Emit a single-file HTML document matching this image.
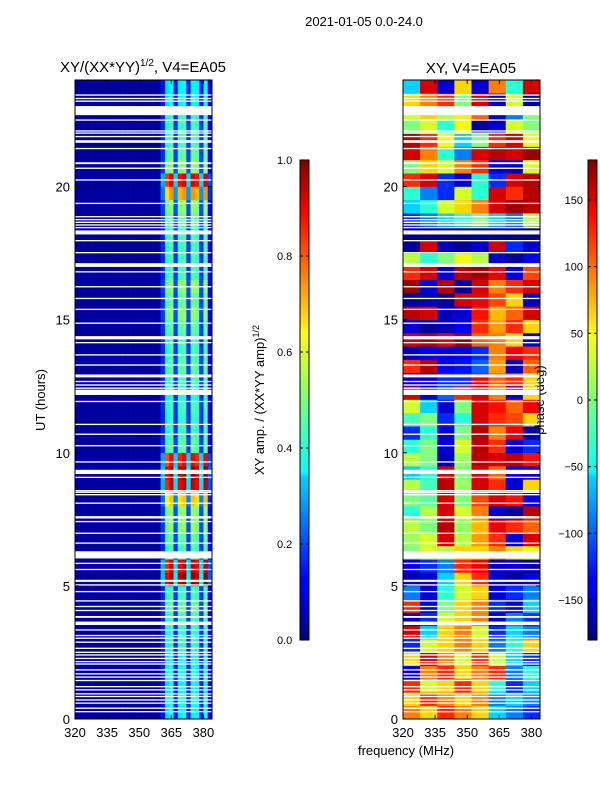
<!DOCTYPE html>
<html><head><meta charset="utf-8">
<style>
html,body{margin:0;padding:0;background:#fff;}
svg{display:block;font-family:"Liberation Sans","DejaVu Sans",sans-serif;}
</style></head>
<body>
<svg id="fig" width="600" height="800" viewBox="0 0 600 800" xmlns="http://www.w3.org/2000/svg">
<defs>
<linearGradient id="jetV" x1="0" y1="1" x2="0" y2="0">
<stop offset="0" stop-color="#00007f"/><stop offset="0.11" stop-color="#0000ff"/>
<stop offset="0.125" stop-color="#0000ff"/><stop offset="0.34" stop-color="#00d4ff"/>
<stop offset="0.35" stop-color="#0ff"/><stop offset="0.5" stop-color="#7dff7a"/>
<stop offset="0.64" stop-color="#ff0"/><stop offset="0.66" stop-color="#ffe600"/>
<stop offset="0.89" stop-color="#ff0000"/><stop offset="1" stop-color="#7f0000"/>
</linearGradient>
</defs>
<text x="364" y="26" font-size="13" text-anchor="middle">2021-01-05 0.0-24.0</text>
<text x="143" y="72" font-size="15" text-anchor="middle">XY/(XX*YY)<tspan font-size="10" dy="-6">1/2</tspan><tspan dy="6">, V4=EA05</tspan></text>
<text x="471" y="73" font-size="15" text-anchor="middle">XY, V4=EA05</text>
<text transform="translate(45,400) rotate(-90)" font-size="13" text-anchor="middle">UT (hours)</text>
<text x="406" y="755" font-size="13" text-anchor="middle">frequency (MHz)</text>
<text transform="translate(264,400) rotate(-90)" font-size="13" text-anchor="middle">XY amp. / (XX*YY amp)<tspan font-size="9" dy="-5">1/2</tspan></text>
<g id="amp"></g>
<g id="phase"></g>
<text transform="translate(544,400) rotate(-90)" font-size="13" text-anchor="middle">phase (deg)</text>
<g id="axes"></g>
<rect x="300" y="160" width="9" height="480" fill="url(#jetV)" stroke="#000" stroke-width="1"/>
<rect x="588" y="160" width="9" height="480" fill="url(#jetV)" stroke="#000" stroke-width="1"/>
<g id="cbticks"></g>
</svg>
<script>
const ampTickLabels=["0.0","0.2","0.4","0.6","0.8","1.0"];
const ampTickValues=[0,0.2,0.4,0.6,0.8,1.0];
const phaseTickValues=[-150,-100,-50,0,50,100,150];
const phaseTickLabels=["\u2212150","\u2212100","\u221250","0","50","100","150"];
const hourTicks=[0,5,10,15,20];
const freqTicks=[320,335,350,365,380];
// amplitude: 2 MHz channels 320..384, band-shape per channel
const chanShape=[0,0,0,0,0,0,0,0,0,0,0,0,0,0,0,0,0,0,0,0,0.3,0.9,1.0,0.35,0.95,1.0,0.35,1.0,0.95,0.35,1.0,0.2];
// per half-hour row (0h..24h) band amplitude
const bandAmp=[0.35,0.38,0.35,0.38,0.35,0.4,0.4,0.42,0.45,0.42,0.95,0.9,0.42,0.45,0.5,0.5,0.65,0.9,0.95,0.85,0.45,0.42,0.4,0.42,0.38,0.42,0.45,0.42,0.42,0.45,0.5,0.45,0.5,0.42,0.42,0.42,0.42,0.45,0.5,0.7,0.88,0.5,0.45,0.42,0.42,0.4,0.35,0.35];
const ampBackground=0.03;
// phase: 8 MHz channels 320..384, half-hour rows
const phaseRows=[
[90,60,120,90,60,-60,-90,-120],[60,120,90,60,90,-90,-60,-90],[120,30,60,120,60,-30,-120,-60],
[-150,90,120,60,90,120,-90,-30],[60,150,90,30,120,30,-60,-120],[-120,30,60,90,60,-90,-30,60],
[150,-60,60,90,30,-120,-60,-90],[-150,-120,30,60,90,-150,-90,-120],[120,-150,0,60,90,-120,-150,-60],
[-90,-150,-30,30,60,-150,-120,-90],[-160,-150,-60,60,120,-150,-170,-140],[-150,-120,-90,120,140,-160,-150,-170],
[0,30,20,60,60,90,60,40],[10,30,150,20,80,120,-150,150],[20,0,160,10,70,140,120,100],
[-30,20,150,30,90,-150,-170,160],[0,-10,150,0,110,150,130,-140],[20,-20,160,10,150,120,-150,60],
[-60,-30,150,0,150,100,-150,-160],[20,0,-160,10,160,150,160,130],[-30,0,-150,30,160,120,-150,-120],
[-120,-30,-150,0,160,90,140,-160],[-20,0,-120,-30,150,120,110,60],[30,-60,-150,0,150,130,100,140],
[150,-150,-100,120,150,90,-150,60],[-150,-150,-120,-120,140,100,120,60],[120,160,-140,-130,-100,80,-160,100],
[-160,-140,-150,-140,-120,90,140,120],[150,160,140,170,100,90,60,-150],[-150,-170,-160,-140,120,80,120,60],
[160,150,-160,-150,130,70,100,150],[-170,-160,-170,150,140,110,60,-160],[170,-150,160,-170,150,90,120,150],
[120,150,-150,160,170,140,-150,110],[20,-30,0,40,20,-150,-170,-140],[-170,150,-160,-170,-150,150,-120,-150],
[-175,-175,-175,-175,-170,-175,-175,-175],[-120,-90,-60,-30,0,-60,-90,20],[-60,-30,30,60,90,150,170,160],
[-30,-90,-120,30,-30,150,120,160],[120,150,-120,-150,-30,-120,150,160],[0,60,30,90,120,-150,-160,30],
[150,90,-30,-90,150,160,150,170],[160,120,40,-60,0,120,150,40],[0,30,-30,40,-170,-150,30,0],
[30,60,20,50,100,-150,-90,0],[60,90,120,0,150,-160,30,-170],[-60,150,-150,60,-150,90,-30,150]];
// flagged (white) time intervals, hours [start,end]
const flagStart=[0.25,0.38,0.57,0.69,0.82,0.92,1.07,1.19,1.42,1.55,1.67,1.82,2.04,2.13,2.25,2.38,2.48,2.63,2.86,3.01,3.11,3.32,3.53,3.8,4.05,4.2,4.41,4.76,5.01,5.15,5.59,5.82,6.03,6.58,6.95,7.39,7.53,8.08,8.4,8.49,8.55,9.05,9.2,9.63,10.24,10.67,11.04,11.9,12.17,12.27,12.4,12.52,12.65,12.83,13.27,13.65,14.11,14.26,14.84,15.36,15.77,16.21,16.77,16.98,17.49,17.94,18.2,18.43,18.53,18.63,18.73,18.84,19.34,20.22,20.66,20.84,21.4,21.64,21.85,21.98,22.06,22.47,22.68,23.18,23.28,23.41];
const flagEnd=[0.3,0.43,0.62,0.74,0.87,0.97,1.12,1.24,1.47,1.6,1.72,1.87,2.09,2.18,2.3,2.43,2.53,2.68,2.91,3.06,3.16,3.37,3.66,3.87,4.1,4.25,4.46,4.81,5.06,5.23,5.64,5.87,6.3,6.63,7.0,7.44,7.62,8.13,8.45,8.54,8.6,9.1,9.36,9.68,10.29,10.72,11.09,11.95,12.37,12.32,12.45,12.57,12.7,12.94,13.32,13.7,14.16,14.38,14.89,15.41,15.82,16.26,16.82,17.12,17.54,17.99,18.35,18.48,18.58,18.68,18.78,18.89,19.39,20.27,20.71,20.91,21.45,21.74,21.9,22.03,22.11,22.52,23.02,23.23,23.33,23.46];

const NS="http://www.w3.org/2000/svg";
function jet(v){v=Math.max(0,Math.min(1,v));
 function c(x){return Math.round(255*Math.max(0,Math.min(1,x)));}
 const r=c(Math.min(4*v-1.5,-4*v+4.5)),g=c(Math.min(4*v-0.5,-4*v+3.5)),b=c(Math.min(4*v+0.5,-4*v+2.5));
 return `rgb(${r},${g},${b})`;}
const H0=719,H1=80,T0=0,T1=24;
function yS(h){return H0+(h-T0)/(T1-T0)*(H1-H0);}
const F0=320,F1=384;
function xS(f,x0,x1){return x0+(f-F0)/(F1-F0)*(x1-x0);}
const panels=[{x0:75,x1:212,name:'amplitude'},{x0:403,x1:540,name:'phase'}];
function mk(tag,attrs,parent){const e=document.createElementNS(NS,tag);for(const k in attrs)e.setAttribute(k,attrs[k]);parent.appendChild(e);return e;}
const gA=document.getElementById('amp');
const nA=chanShape.length, fstepA=(F1-F0)/nA;
for(let r=0;r<bandAmp.length;r++){
 const ya=yS(r*0.5), yb=yS((r+1)*0.5);
 for(let c=0;c<nA;c++){
  const xa=xS(F0+c*fstepA,75,212), xb=xS(F0+(c+1)*fstepA,75,212);
  const v=ampBackground+bandAmp[r]*chanShape[c];
  const e=mk('rect',{x:xa,y:yb,width:xb-xa+0.3,height:ya-yb+0.3,fill:jet(v)},gA);
  
  
 }
}
const gP=document.getElementById('phase');
for(let r=0;r<phaseRows.length;r++){
 const ya=yS(r*0.5), yb=yS((r+1)*0.5);
 const row=phaseRows[r], n=row.length, fs=(F1-F0)/n;
 for(let c=0;c<n;c++){
  const xa=xS(F0+c*fs,403,540), xb=xS(F0+(c+1)*fs,403,540);
  const e=mk('rect',{x:xa,y:yb,width:xb-xa+0.3,height:ya-yb+0.3,fill:jet((row[c]+180)/360)},gP);
  
  
 }
}
const gX=document.getElementById('axes');
panels.forEach(p=>{
 for(let i=0;i<flagStart.length;i++){
  const ya=yS(flagStart[i]), yb=yS(flagEnd[i]);
  const e=mk('rect',{x:p.x0,y:yb,width:p.x1-p.x0,height:Math.max(1.2,ya-yb),fill:'#fff'},gX);
  
  
 }
 const fr=mk('rect',{x:p.x0,y:H1,width:p.x1-p.x0,height:H0-H1,fill:'none',stroke:'#000','stroke-width':1},gX);
 
 
 hourTicks.forEach(h=>{const y=yS(h);
  mk('line',{x1:p.x0,x2:p.x0+4,y1:y,y2:y,stroke:'#000'},gX);
  mk('line',{x1:p.x1,x2:p.x1-4,y1:y,y2:y,stroke:'#000'},gX);
  const t=mk('text',{x:p.x0-5,y:y+5,'font-size':13,'text-anchor':'end'},gX);t.textContent=h;
  
  
 });
 freqTicks.forEach(f=>{const x=xS(f,p.x0,p.x1);
  mk('line',{x1:x,x2:x,y1:H0,y2:H0-4,stroke:'#000'},gX);
  mk('line',{x1:x,x2:x,y1:H1,y2:H1+4,stroke:'#000'},gX);
  const t=mk('text',{x:x,y:H0+18,'font-size':13,'text-anchor':'middle'},gX);t.textContent=f;
  
  
 });
});
const gC=document.getElementById('cbticks');
function cbY(frac){return 640-frac*480;}
ampTickValues.forEach((v,i)=>{const y=cbY(v);
 mk('line',{x1:300,x2:303,y1:y,y2:y,stroke:'#000'},gC);mk('line',{x1:309,x2:306,y1:y,y2:y,stroke:'#000'},gC);
 const t=mk('text',{x:277,y:y+4,'font-size':11},gC);t.textContent=ampTickLabels[i];
 
 
});
phaseTickValues.forEach((v,i)=>{const y=cbY((v+180)/360);
 mk('line',{x1:588,x2:591,y1:y,y2:y,stroke:'#000'},gC);mk('line',{x1:597,x2:594,y1:y,y2:y,stroke:'#000'},gC);
 const t=mk('text',{x:583,y:y+4,'font-size':11,'text-anchor':'end'},gC);t.textContent=phaseTickLabels[i];
 
 
});
</script>
</body></html>
